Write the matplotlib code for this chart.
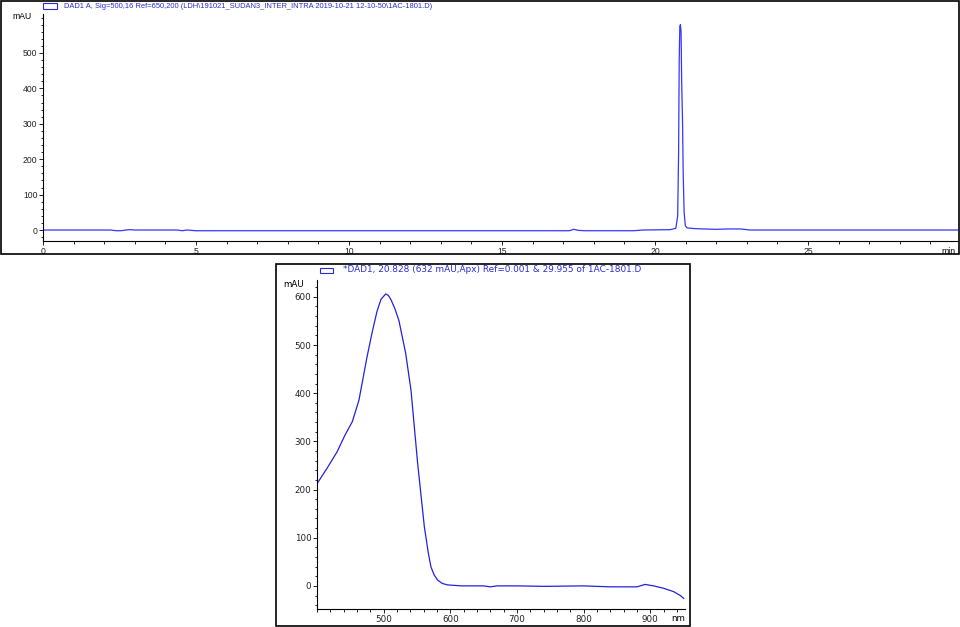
import matplotlib
matplotlib.use("Agg")
import matplotlib.pyplot as plt
from matplotlib.patches import Rectangle
from matplotlib.ticker import MultipleLocator

plt.rcParams['font.family'] = ['Liberation Sans', 'DejaVu Sans']

# chromatogram (DAD1 A, 500 nm)
time_min = [0, 2.2, 2.4, 2.55, 2.7, 2.85, 3.0, 3.2, 4.4, 4.55, 4.7, 4.85, 5.0, 5.2,
            17.2, 17.35, 17.5, 17.7, 19.3, 19.6, 20.5, 20.68, 20.74, 20.77, 20.79,
            20.81, 20.83, 20.85, 20.87, 20.88, 20.9, 20.92, 20.95, 20.99, 21.05,
            21.3, 21.6, 22.0, 22.4, 22.8, 23.1, 30.0]
signal_mau = [0, 0, -2, -2, 0, 1, 0, 0, 0, -2, 0, -1, -2, -2,
              -2, 2, -1, -2, -2, 0, 1, 5, 40, 220, 480,
              575, 580, 560, 420, 380, 300, 160, 50, 12, 6,
              4, 3, 2, 3, 3, 0, 0]

# UV-Vis spectrum at apex
wl_nm = [400, 415, 430, 442, 453, 463, 475, 483, 490, 496, 503, 507, 511, 517, 523,
         533, 541, 551, 561, 567, 571, 576, 581, 588, 596, 617, 650, 660, 670, 700,
         740, 800, 840, 880, 892, 905, 920, 935, 945, 950]
absorb_mau = [212, 244, 278, 313, 341, 386, 475, 528, 570, 595, 606, 603, 594, 575, 550,
              483, 406, 254, 123, 68, 39, 22, 12, 5, 2, 0, 0, -2, 0, 0,
              -1, 0, -2, -2, 3, 0, -5, -12, -20, -26]

chrom_label = "DAD1 A, Sig=500,16 Ref=650,200 (LDH\\191021_SUDAN3_INTER_INTRA 2019-10-21 12-10-50\\1AC-1801.D)"
spec_label = "*DAD1, 20.828 (632 mAU,Apx) Ref=0.001 & 29.955 of 1AC-1801.D"

W, H = 960, 627
fig = plt.figure(figsize=(9.6, 6.27), dpi=100)
fs = 6.2
blue_txt = '#2a2ad8'


def fx(px):
    return px / W


def fy(py):
    return 1 - py / H


def style_axes(ax, size):
    for s in ['top', 'right']:
        ax.spines[s].set_visible(False)
    for s in ['left', 'bottom']:
        ax.spines[s].set_linewidth(0.8)
    ax.tick_params(which='major', direction='out', length=3, width=0.7,
                   labelsize=size, pad=1, colors='#222222')
    ax.tick_params(which='minor', direction='out', length=1.8, width=0.6)


# frames
fig.add_artist(Rectangle((fx(0.5), fy(254)), fx(958.5), 253 / H, transform=fig.transFigure,
                         fill=False, lw=1.2, ec='black'))
fig.add_artist(Rectangle((fx(276), fy(626)), fx(414), 362 / H, transform=fig.transFigure,
                         fill=False, lw=1.2, ec='black'))

# top chromatogram
ax1 = fig.add_axes([fx(43), fy(241), fx(958 - 43), (241 - 14) / H])
ax1.plot(time_min, signal_mau, color='#3535ff', lw=0.9)
ax1.set_xlim(0, 29.9)
ax1.set_ylim(-31, 610)
ax1.set_yticks([0, 100, 200, 300, 400, 500])
ax1.set_xticks([0, 5, 10, 15, 20, 25])
ax1.xaxis.set_minor_locator(MultipleLocator(1))
ax1.yaxis.set_minor_locator(MultipleLocator(20))
style_axes(ax1, fs)
ax1.text(-0.012, 0.99, "mAU", transform=ax1.transAxes, ha='right', va='center', fontsize=fs)
ax1.text(0.997, -0.025, "min", transform=ax1.transAxes, ha='right', va='top', fontsize=fs)
fig.add_artist(Rectangle((fx(43), fy(8.5)), fx(14), 5 / H, transform=fig.transFigure,
                         fill=False, lw=0.8, ec=blue_txt))
fig.text(fx(64), fy(6.5), chrom_label, fontsize=5.4, color=blue_txt, ha='left', va='center')

# bottom spectrum (wider font, like the reference)
fs2 = 6.3
ax2 = fig.add_axes([fx(317), fy(609), fx(685 - 317), (609 - 280) / H])
ax2.plot(wl_nm, absorb_mau, color='#2222dd', lw=0.9)
ax2.set_xlim(400, 952)
ax2.set_ylim(-48, 635)
ax2.set_xticks([500, 600, 700, 800, 900])
ax2.set_yticks([0, 100, 200, 300, 400, 500, 600])
ax2.xaxis.set_minor_locator(MultipleLocator(20))
ax2.yaxis.set_minor_locator(MultipleLocator(20))
style_axes(ax2, fs2)
for lab in ax2.get_xticklabels() + ax2.get_yticklabels():
    lab.set_family('DejaVu Sans')
ax2.text(-0.035, 0.985, "mAU", transform=ax2.transAxes, ha='right', va='center',
         fontsize=fs2, family='DejaVu Sans')
ax2.text(1.0, -0.016, "nm", transform=ax2.transAxes, ha='right', va='top',
         fontsize=fs2, family='DejaVu Sans')
fig.add_artist(Rectangle((fx(320), fy(273)), fx(13), 5 / H, transform=fig.transFigure,
                         fill=False, lw=0.8, ec=blue_txt))
fig.text(fx(343), fy(270), spec_label, fontsize=6.4, color=blue_txt, ha='left', va='center',
         family='DejaVu Sans')

fig.savefig("out.png", dpi=100)
